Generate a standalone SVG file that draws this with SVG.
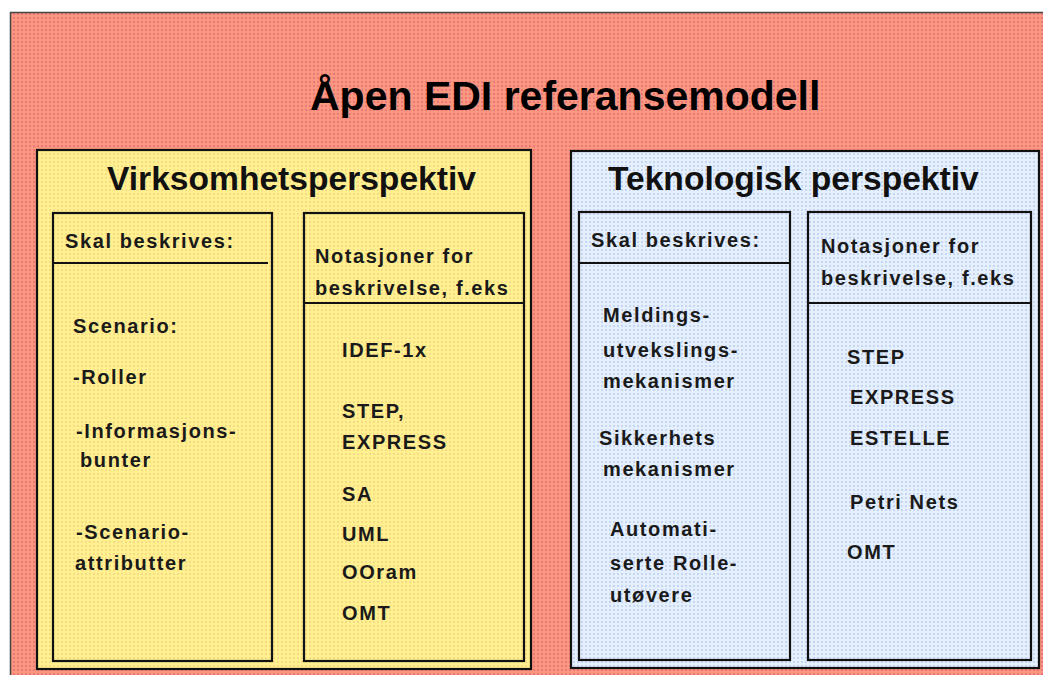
<svg xmlns="http://www.w3.org/2000/svg" width="1043" height="675" viewBox="0 0 1043 675">
  <defs>
    <pattern id="pinkDots" width="4" height="4" patternUnits="userSpaceOnUse">
      <rect width="4" height="4" fill="#F8987F"/>
      <rect x="1" y="1" width="2" height="2" fill="#F0767C"/>
    </pattern>
    <pattern id="yellowDots" width="4" height="4" patternUnits="userSpaceOnUse">
      <rect width="4" height="4" fill="#FFF18E"/>
      <rect x="1" y="1" width="2" height="2" fill="#F8D98C"/>
    </pattern>
    <pattern id="blueDots" width="4" height="4" patternUnits="userSpaceOnUse">
      <rect width="4" height="4" fill="#E4F0FC"/>
      <rect x="1" y="1" width="2" height="2" fill="#C9D4F4"/>
    </pattern>
  </defs>
  <style>
    .panel { stroke: #111; stroke-width: 2.2; }
    .box { fill: none; stroke: #111; stroke-width: 2.2; }
    .div { stroke: #111; stroke-width: 2; }
    .title { font-family: "Liberation Sans", Arial, sans-serif; font-weight: bold; font-size: 41px; fill: #000; }
    .head { font-family: "Liberation Sans", Arial, sans-serif; font-weight: bold; font-size: 33.6px; fill: #111; }
    .txt { font-family: "Liberation Sans", Arial, sans-serif; font-weight: bold; font-size: 20px; letter-spacing: 1.6px; fill: #1a1a1a; }
  </style>

  <rect x="0" y="0" width="1043" height="675" fill="#ffffff"/>

  <g id="background">
    <rect x="10.5" y="12.5" width="1040" height="670" fill="url(#pinkDots)" stroke="#444" stroke-width="1.5"/>
    <text class="title" x="310" y="110">Åpen EDI referansemodell</text>
  </g>

  <g id="virksomhetsperspektiv">
    <rect class="panel" x="37" y="150" width="494" height="519" fill="url(#yellowDots)"/>
    <text class="head" x="107" y="190">Virksomhetsperspektiv</text>
  </g>

  <g id="v-skal-beskrives">
    <rect class="box" x="53" y="213" width="219" height="448"/>
    <line class="div" x1="53" y1="263" x2="268" y2="263"/>
    <text class="txt" x="65" y="248">Skal beskrives:</text>
    <text class="txt" x="73" y="333">Scenario:</text>
    <text class="txt" x="73" y="384">-Roller</text>
    <text class="txt" x="76" y="438">-Informasjons-</text>
    <text class="txt" x="80" y="467">bunter</text>
    <text class="txt" x="76" y="539">-Scenario-</text>
    <text class="txt" x="75" y="570">attributter</text>
  </g>

  <g id="v-notasjoner">
    <rect class="box" x="304" y="213" width="220" height="448"/>
    <line class="div" x1="304" y1="303" x2="524" y2="303"/>
    <text class="txt" x="315" y="263">Notasjoner for</text>
    <text class="txt" x="315" y="295">beskrivelse, f.eks</text>
    <text class="txt" x="342" y="357">IDEF-1x</text>
    <text class="txt" x="342" y="418">STEP,</text>
    <text class="txt" x="342" y="449">EXPRESS</text>
    <text class="txt" x="342" y="501">SA</text>
    <text class="txt" x="342" y="541">UML</text>
    <text class="txt" x="342" y="579">OOram</text>
    <text class="txt" x="342" y="620">OMT</text>
  </g>

  <g id="teknologisk-perspektiv">
    <rect class="panel" x="571" y="151" width="468" height="517" fill="url(#blueDots)"/>
    <text class="head" x="608" y="190">Teknologisk perspektiv</text>
  </g>

  <g id="t-skal-beskrives">
    <rect class="box" x="579" y="212" width="211" height="448"/>
    <line class="div" x1="579" y1="263" x2="790" y2="263"/>
    <text class="txt" x="591" y="247">Skal beskrives:</text>
    <text class="txt" x="603" y="322">Meldings-</text>
    <text class="txt" x="603" y="357">utvekslings-</text>
    <text class="txt" x="603" y="388">mekanismer</text>
    <text class="txt" x="599" y="445">Sikkerhets</text>
    <text class="txt" x="603" y="476">mekanismer</text>
    <text class="txt" x="610" y="536">Automati-</text>
    <text class="txt" x="610" y="570">serte Rolle-</text>
    <text class="txt" x="610" y="602">utøvere</text>
  </g>

  <g id="t-notasjoner">
    <rect class="box" x="808" y="212" width="223" height="448"/>
    <line class="div" x1="808" y1="303" x2="1031" y2="303"/>
    <text class="txt" x="821" y="253">Notasjoner for</text>
    <text class="txt" x="821" y="285">beskrivelse, f.eks</text>
    <text class="txt" x="847" y="364">STEP</text>
    <text class="txt" x="850" y="404">EXPRESS</text>
    <text class="txt" x="850" y="445">ESTELLE</text>
    <text class="txt" x="850" y="509">Petri Nets</text>
    <text class="txt" x="847" y="559">OMT</text>
  </g>
</svg>
